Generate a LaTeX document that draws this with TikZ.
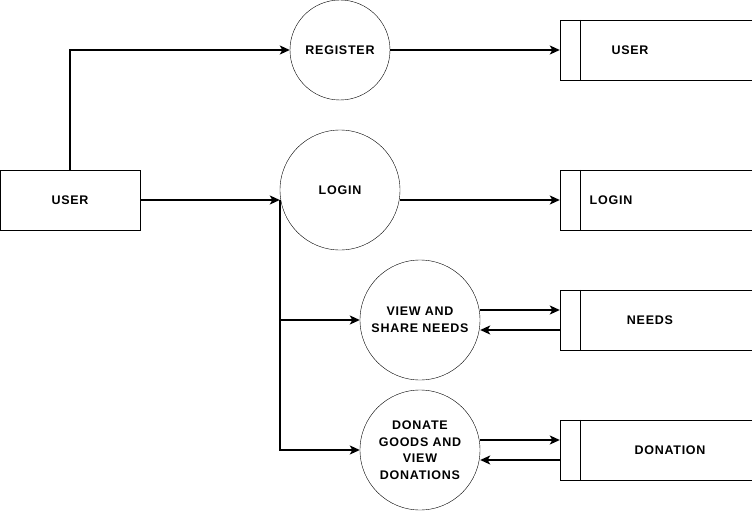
\documentclass[tikz,border=0pt]{standalone}
\usepackage{fontspec}
\setmainfont{Liberation Sans}[LetterSpace=6]
\usepackage{tikz}
\usetikzlibrary{shapes,arrows,arrows.meta}
\usetikzlibrary{positioning}
\tikzstyle{proc} = [draw, circle, inner sep=0pt, minimum size=120pt, align=center]
\tikzstyle{ent} = [draw, rectangle, minimum width=140pt, minimum height=60pt]
\tikzstyle{store} = [rectangle, minimum width=192pt, minimum height=60pt]
\tikzstyle{flow} = [-{Stealth[length=10pt,width=9pt,inset=2.5pt]}, line width=1.6pt]

\begin{document}
\begin{tikzpicture}[x=1pt, y=-1pt, node distance = 130pt, auto,
    font=\bfseries\fontsize{12.5}{16.5}\selectfont]
  \useasboundingbox (0,0) rectangle (753,511);
  \node [ent] (user) at (70,200) {USER};
  \node [proc, minimum size=100pt] (register) at (340,50) {REGISTER};
  \node [proc, below of=register, node distance=140pt] (login) {LOGIN};
  \node [proc, below of=login, xshift=80pt] (needs) {VIEW AND\\SHARE NEEDS};
  \node [proc, below of=needs] (donate) {DONATE\\GOODS AND\\VIEW\\DONATIONS};
  % data stores
  \node [store, label={[xshift=-26pt]center:USER}] (suser) at (656,50) {};
  \node [store, label={[xshift=-45pt]center:LOGIN}] (slogin) at (656,200) {};
  \node [store, label={[xshift=-6pt]center:NEEDS}] (sneeds) at (656,320) {};
  \node [store, label={[xshift=14pt]center:DONATION}] (sdonation) at (656,450) {};
  \foreach \s in {suser,slogin,sneeds,sdonation}
    \draw (\s.north east) -- (\s.north west) -- (\s.south west) -- (\s.south east)
      ([xshift=20pt]\s.north west) -- ([xshift=20pt]\s.south west);
  \coordinate (split) at (login.west |- user.east);
  \draw [flow] (user.north) |- (register.west);
  \draw [flow] (user.east) -- (split);
  \draw [flow] (split) |- (needs.west);
  \draw [flow] (split) |- (donate.west);
  \draw [flow] (register) -- (suser);
  \draw [flow] (login.east |- slogin.west) -- (slogin.west);
  \draw [flow] ([yshift=10pt]needs.east) -- ([yshift=10pt]sneeds.west);
  \draw [flow] ([yshift=-10pt]sneeds.west) -- ([yshift=-10pt]needs.east);
  \draw [flow] ([yshift=10pt]donate.east) -- ([yshift=10pt]sdonation.west);
  \draw [flow] ([yshift=-10pt]sdonation.west) -- ([yshift=-10pt]donate.east);
\end{tikzpicture}
\end{document}
